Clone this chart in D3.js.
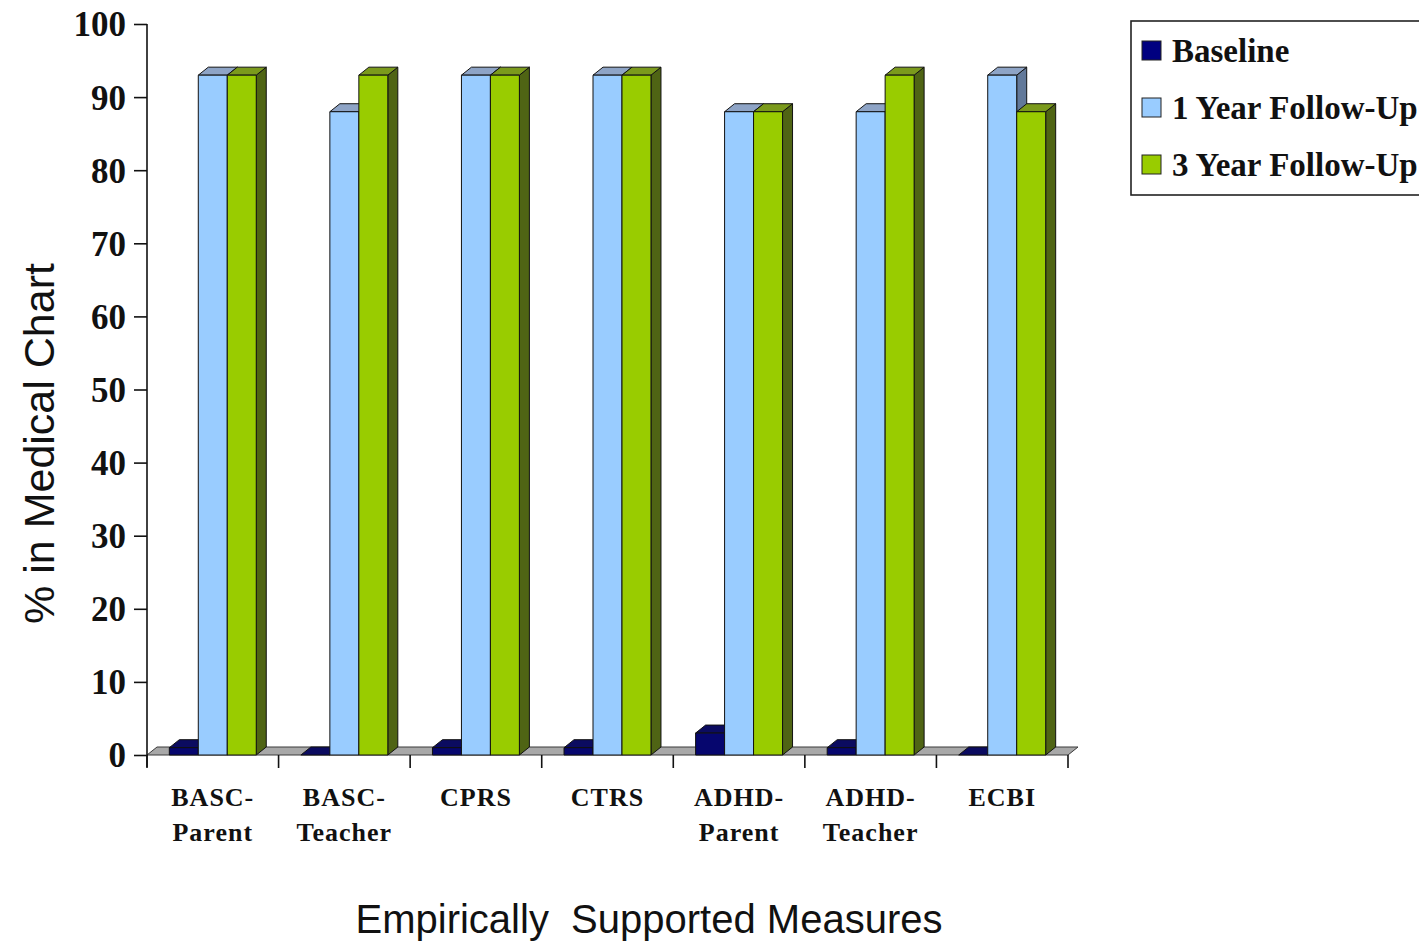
<!DOCTYPE html>
<html>
<head>
<meta charset="utf-8">
<script src="https://cdn.jsdelivr.net/npm/d3@7"></script>
<style>
  html, body { margin: 0; padding: 0; background: #fff; }
  svg { display: block; }
</style>
</head>
<body>
<svg id="chart" width="1419" height="944"></svg>
<script>
// Chart data
const categories = [
  ["BASC-", "Parent"],
  ["BASC-", "Teacher"],
  ["CPRS"],
  ["CTRS"],
  ["ADHD-", "Parent"],
  ["ADHD-", "Teacher"],
  ["ECBI"]
];
const seriesNames = ["Baseline", "1 Year Follow-Up", "3 Year Follow-Up"];
const baseline   = [1, 0, 1, 1, 3, 1, 0];
const followUp1  = [93, 88, 93, 93, 88, 88, 93];
const followUp3  = [93, 93, 93, 93, 88, 93, 88];
const yTicks = [0, 10, 20, 30, 40, 50, 60, 70, 80, 90, 100];

const seriesValues = [baseline, followUp1, followUp3];
// front, top, side face colours per series
const faceColors = [
  { front: "#06066e", top: "#0b0b60", side: "#000040" },
  { front: "#99ccff", top: "#8ea4c6", side: "#62799a" },
  { front: "#99cc00", top: "#7b9a1c", side: "#4f6414" }
];
const legendColors = ["#000080", "#99ccff", "#99cc00"];

const svg = d3.select("#chart");
const serif = "'Liberation Serif', 'Times New Roman', serif";
const sans = "'Liberation Sans', Arial, sans-serif";

const plotLeft = 147, plotRight = 1068, plotTop = 24, plotBottom = 755;
const depthX = 10, depthY = 8;

const y = d3.scaleLinear().domain([0, 100]).range([plotBottom, plotTop]);
const catIdx = categories.map((d, i) => i);
const x0 = d3.scaleBand().domain(catIdx).range([plotLeft, plotRight]).padding(0);
const x1 = d3.scaleBand().domain(d3.range(seriesNames.length))
  .range([0, x0.bandwidth()]).paddingInner(0).paddingOuter(0.77);

// floor slab
svg.append("path")
  .attr("d", `M${plotLeft},${plotBottom} L${plotRight},${plotBottom} L${plotRight + depthX},${plotBottom - depthY} L${plotLeft + depthX},${plotBottom - depthY} Z`)
  .attr("fill", "#a8a8a8")
  .attr("stroke", "#3a3a3a")
  .attr("stroke-width", 1);

// 3D bars, drawn left to right so each bar hides its neighbour's side face
const barG = svg.append("g");
catIdx.forEach(ci => {
  seriesValues.forEach((vals, si) => {
    const v = vals[ci];
    const bx = x0(ci) + x1(si);
    const bw = x1.bandwidth();
    const yt = y(v);
    const c = faceColors[si];
    const g = barG.append("g").attr("stroke", "#111").attr("stroke-width", 1).attr("stroke-linejoin", "round");
    // side face
    g.append("path")
      .attr("d", `M${bx + bw},${plotBottom} L${bx + bw},${yt} L${bx + bw + depthX},${yt - depthY} L${bx + bw + depthX},${plotBottom - depthY} Z`)
      .attr("fill", c.side);
    // top face
    g.append("path")
      .attr("d", `M${bx},${yt} L${bx + depthX},${yt - depthY} L${bx + bw + depthX},${yt - depthY} L${bx + bw},${yt} Z`)
      .attr("fill", c.top);
    // front face
    if (v > 0) {
      g.append("rect")
        .attr("x", bx).attr("y", yt)
        .attr("width", bw).attr("height", plotBottom - yt)
        .attr("fill", c.front);
    }
  });
});

// Y axis
const yAxis = d3.axisLeft(y).tickValues(yTicks).tickSize(13).tickPadding(8);
const yG = svg.append("g").attr("transform", `translate(${plotLeft},0)`).call(yAxis);
yG.select(".domain").attr("d", `M0,${plotTop}V${plotBottom + 12}`).attr("stroke", "#111").attr("stroke-width", 1.6);
yG.selectAll(".tick line").attr("stroke", "#111").attr("stroke-width", 1.6);
yG.selectAll(".tick text")
  .attr("font-family", serif).attr("font-weight", "bold")
  .attr("font-size", 35).attr("fill", "#111")
  .attr("dy", "0.34em");

// X axis ticks at category boundaries
const boundaries = catIdx.map(i => x0(i)).concat([plotRight]);
svg.append("g").selectAll("line").data(boundaries).join("line")
  .attr("x1", d => d).attr("x2", d => d)
  .attr("y1", plotBottom).attr("y2", plotBottom + 13)
  .attr("stroke", "#111").attr("stroke-width", 1.6);

// Category labels
const labelG = svg.append("g")
  .attr("font-family", serif).attr("font-weight", "bold")
  .attr("font-size", 26).attr("fill", "#111").attr("text-anchor", "middle");
categories.forEach((lines, ci) => {
  const cx = x0(ci) + x0.bandwidth() / 2;
  lines.forEach((t, li) => {
    labelG.append("text")
      .attr("x", cx).attr("y", 806 + li * 35)
      .attr("letter-spacing", "1px")
      .text(t);
  });
});

// Axis titles
svg.append("text")
  .attr("transform", `translate(54,${(plotTop + plotBottom) / 2 + 54}) rotate(-90)`)
  .attr("text-anchor", "middle")
  .attr("font-family", sans).attr("font-size", 43).attr("fill", "#111")
  .text("% in Medical Chart");

svg.append("text")
  .attr("x", 649).attr("y", 933)
  .attr("text-anchor", "middle")
  .attr("font-family", sans).attr("font-size", 40).attr("fill", "#111")
  .style("white-space", "pre")
  .text("Empirically  Supported Measures");

// Legend
const legend = svg.append("g");
legend.append("rect")
  .attr("x", 1131).attr("y", 21).attr("width", 320).attr("height", 174)
  .attr("fill", "#fff").attr("stroke", "#222").attr("stroke-width", 1.6);
seriesNames.forEach((name, i) => {
  const ly = 51 + i * 57;
  legend.append("rect")
    .attr("x", 1142).attr("y", ly - 10).attr("width", 19).attr("height", 19)
    .attr("fill", legendColors[i]).attr("stroke", "#222").attr("stroke-width", 1);
  legend.append("text")
    .attr("x", 1172).attr("y", ly + 11)
    .attr("font-family", serif).attr("font-weight", "bold")
    .attr("font-size", 33).attr("fill", "#111")
    .text(name);
});
</script>
</body>
</html>
